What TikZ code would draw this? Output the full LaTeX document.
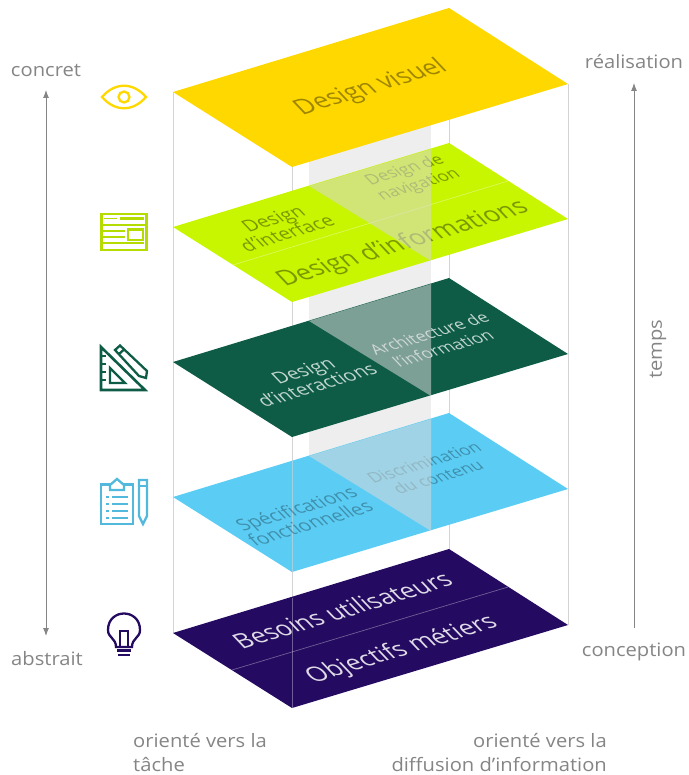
\documentclass[tikz,border=0pt]{standalone}
\usepackage{fontspec}
\usetikzlibrary{arrows.meta}
\setmainfont[FakeStretch=1.09]{Open Sans}
\definecolor{cyellow}{HTML}{FFD800}
\definecolor{cgreen}{HTML}{C8F500}
\definecolor{cdark}{HTML}{0E5C45}
\definecolor{cblue}{HTML}{5BCDF5}
\definecolor{cpurple}{HTML}{240A60}
\definecolor{cgrey}{HTML}{858585}
\definecolor{cline}{HTML}{D4D4D4}
\definecolor{cband}{HTML}{EEEEEE}
\definecolor{cveil}{HTML}{D8D8D8}
\tikzset{
  pillar/.style={draw=cline,line width=0.7pt},
  veil/.style={fill=cveil,fill opacity=0.55,draw=none},
  seam/.style={draw=white,draw opacity=0.35,line width=0.7pt},
  plane/.style={rotate=17,xslant=-0.5,align=center,inner sep=0pt,font=\fontsize{#1}{18}\selectfont},
  side/.style={text=cgrey,inner sep=0pt,font=\fontsize{18.5}{24}\selectfont},
  axisline/.style={draw=cgrey,line width=0.9pt},
  ico/.style={line width=2.3pt,line join=miter,fill=none},
}
\begin{document}
\begin{tikzpicture}[x=1pt,y=-1pt]
\useasboundingbox (0,0) rectangle (688,775);
% corners of layers
\foreach \n/\d in {a/0,b/135,c/270,d/405,e/541}{
  \coordinate (\n L) at (173,92+\d);
  \coordinate (\n B) at (292,167+\d);
  \coordinate (\n R) at (568,84+\d);
  \coordinate (\n T) at (449,8+\d);
}
% pillars
\draw[pillar] (aL) -- (eL);
\draw[pillar] (aR) -- (eR);
\draw[pillar] (aB) -- (eB);
\draw[pillar] (aT) -- (eT);
% grey band
\fill[cband] (309,110) rectangle (431,480);
% purple
\fill[cpurple] (eL) -- (eB) -- (eR) -- (eT) -- cycle;
\coordinate (eSa) at (232,670); \coordinate (eSb) at (508,587);
\draw[seam] (eSa) -- (eSb);
\coordinate (ePa) at (292,598); \draw[seam] (ePa) -- (eB);
\node[plane=22.5,text=white,opacity=.85] (t9) at (342,610) {Besoins utilisateurs};
\node[plane=22.5,text=white,opacity=.85] (t10) at (402,650) {Objectifs métiers};
% blue
\fill[cblue] (dL) -- (dB) -- (dR) -- (dT) -- cycle;
\coordinate (dPa) at (292,461); \draw[pillar,draw opacity=.6] (dPa) -- (dB);
\node[plane=17.5,text=black,opacity=.3] (t7) at (303,516) {Spécifications\\fonctionnelles};
\node[plane=15.5,text=black,opacity=.3] (t8) at (431,470) {Discrimination\\du contenu};
\fill[veil] (309,456) -- (431,419) -- (431,531) -- cycle;
% dark green
\fill[cdark] (cL) -- (cB) -- (cR) -- (cT) -- cycle;
\node[plane=17.5,text=white,opacity=.75] (t5) at (310,378) {Design\\d’interactions};
\node[plane=15.5,text=white,opacity=.75] (t6) at (436,341) {Architecture de\\l’information};
\fill[veil] (309,321) -- (431,284) -- (431,396) -- cycle;
% green
\fill[cgreen] (bL) -- (bB) -- (bR) -- (bT) -- cycle;
\coordinate (bSa) at (233,265); \coordinate (bSb) at (508,181);
\draw[seam] (bSa) -- (bSb);
\node[plane=17.5,text=black,opacity=.38] (t2) at (280,226) {Design\\d’interface};
\node[plane=15.5,text=black,opacity=.38] (t3) at (412,178) {Design de\\navigation};
\node[plane=23,text=black,opacity=.38] (t4) at (403,244) {Design d’informations};
\fill[veil] (309,186) -- (431,149) -- (431,261) -- cycle;
% yellow
\fill[cyellow] (aL) -- (aB) -- (aR) -- (aT) -- cycle;
\node[plane=23,text=black,opacity=.38] (t1) at (371,88) {Design visuel};
% side labels and arrows
\node[side] (concret) at (46,70) {concret};
\node[side] (abstrait) at (47,659) {abstrait};
\node[side] (realisation) at (634,62) {réalisation};
\node[side] (conception) at (634,652) {conception};
\node[side,rotate=90] (temps) at (658,349) {temps};
\coordinate (la) at (46,90); \coordinate (lb) at (46,636);
\coordinate (ra) at (634,628); \coordinate (rb) at (634,83);
\draw[axisline,{Latex[length=8pt,width=6pt]}-{Latex[length=8pt,width=6pt]}] (la) -- (lb);
\draw[axisline,-{Latex[length=8pt,width=6pt]}] (ra) -- (rb);
\node[side,anchor=north west,align=left] (tache) at (133,733) {orienté vers la\\tâche};
\node[side,anchor=north east,align=right] (diff) at (607,733) {orienté vers la\\diffusion d’information};
% eye
\begin{scope}[ico,draw=cyellow]
\draw (102,97) .. controls (115,82) and (133,82) .. (146,97) .. controls (133,112) and (115,112) .. (102,97) -- cycle;
\draw (124,97) circle[radius=5.5];
\end{scope}
% window
\begin{scope}[ico,draw=cgreen!90!black]
\draw (101.5,214) rectangle (146.5,250);
\draw (101.5,225) -- (146.5,225);
\draw (120,218.5) -- (144,218.5);
\draw[line width=1.6pt] (104,218.5) -- (117,218.5);
\draw (103,231) -- (125,231) (103,237) -- (125,237) (103,243) -- (144,243);
\draw (128,229.5) rectangle (143,240);
\end{scope}
% set squares
\begin{scope}[ico,draw=cdark]
\draw[line width=2.6pt] (101,347) -- (101,390) -- (145,390) -- cycle;
\draw (110,368) -- (110,383) -- (125,383) -- cycle;
\draw (115,350) -- (120,345.5) -- (147,371) -- (146,378) -- (139,376) -- cycle;
\draw (119,354) -- (124,349.5);
\draw[line width=1.4pt] (101,356) -- (106,356) (101,364) -- (106,364) (101,372) -- (106,372) (101,380) -- (106,380);
\end{scope}
% clipboard
\begin{scope}[ico,draw=cblue!90!black]
\draw (101,484.5) -- (133,484.5) -- (133,524) -- (101,524) -- cycle;
\draw[fill=white] (110,490) -- (110,485) -- (117,479) -- (124,485) -- (124,490) -- cycle;
\foreach \yy in {497,504,511,518}{\draw (106,\yy) -- (109,\yy) (112,\yy) -- (128,\yy);}
\draw (139,480) -- (147,480) -- (147,516) -- (143,524) -- (139,516) -- cycle;
\draw (139,486) -- (147,486);
\end{scope}
% bulb
\begin{scope}[ico,draw=cpurple]
\draw (116,647) .. controls (116,638) and (108,638) .. (108,630) .. controls (108,608) and (140,608) .. (140,630) .. controls (140,638) and (132,638) .. (132,647) -- cycle;
\draw (120,646) -- (120,631) -- (128,631) -- (128,646);
\draw (117,650.5) -- (131,650.5);
\draw (118,655) -- (130,655);
\end{scope}
\end{tikzpicture}
\end{document}
